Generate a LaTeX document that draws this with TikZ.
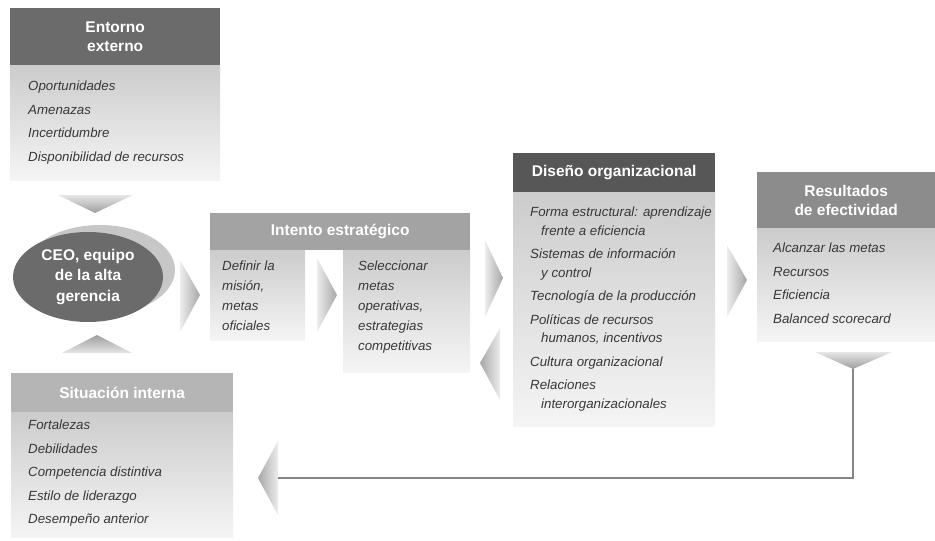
\documentclass[tikz,border=0pt]{standalone}
\usepackage{fontspec}
\setmainfont{Liberation Sans}
\usepackage{tikz}
\usetikzlibrary{shapes.geometric}

\tikzset{
    hdr/.style={rectangle, anchor=north west, inner sep=0pt, text=white, align=center,
        font=\fontsize{15.5}{19}\selectfont\bfseries},
    body/.style={rectangle, anchor=north west, inner sep=0pt, top color=black!20, bottom color=black!4},
    items/.style={anchor=north west, inner sep=0pt, align=left, text=black!78,
        font=\fontsize{13.3}{18.5}\selectfont\itshape},
    chev/.style={left color=black!7, right color=black!35},
    chevback/.style={left color=black!35, right color=black!7},
    chevdown/.style={top color=black!10, bottom color=black!38},
    chevup/.style={top color=black!38, bottom color=black!10},
}

\begin{document}
\begin{tikzpicture}[x=1pt, y=-1pt]
    \useasboundingbox (0,0) rectangle (935,541);

    % Entorno externo
    \node[hdr, fill=black!58, minimum width=210pt, minimum height=57pt] (entH) at (10,8) {Entorno\\externo};
    \node[body, minimum width=210pt, minimum height=115pt] (entB) at (entH.south west) {};
    \node[items] (entT) at ([xshift=18pt, yshift=-12pt]entB.north west)
        {\strut Oportunidades\\[5pt]Amenazas\\[5pt]Incertidumbre\\[5pt]Disponibilidad de recursos};

    % CEO
    \fill[black!22] (100,270) ellipse [x radius=75pt, y radius=45pt];
    \node[ellipse, fill=black!58, minimum width=150pt, minimum height=90pt, inner sep=0pt,
        text=white, align=center, font=\fontsize{15.5}{20.5}\selectfont\bfseries] (ceo) at (88,277)
        {CEO, equipo\\de la alta\\gerencia};
    \shade[chevdown] (58,195) -- (133,195) -- (95,213) -- cycle;
    \shade[chevup] (62,353) -- (132,353) -- (97,335) -- cycle;
    \shade[chev] (180,260) -- (200,295) -- (180,332) -- cycle;

    % Intento estrategico
    \node[hdr, fill=black!36, minimum width=260pt, minimum height=37pt] (intH) at (210,213) {Intento estratégico};
    \node[body, minimum width=95pt, minimum height=90pt] (intL) at (intH.south west) {};
    \node[body, minimum width=127pt, minimum height=122pt, anchor=north east] (intR) at (intH.south east) {};
    \node[items, font=\fontsize{13.3}{20}\selectfont\itshape] (intLT) at ([xshift=12pt, yshift=-6pt]intL.north west)
        {\strut Definir la\\misión,\\metas\\oficiales};
    \node[items, font=\fontsize{13.3}{20}\selectfont\itshape] (intRT) at ([xshift=15pt, yshift=-6pt]intR.north west)
        {\strut Seleccionar\\metas\\operativas,\\estrategias\\competitivas};
    \shade[chev] (317,258) -- (337,295) -- (317,332) -- cycle;
    \shade[chev] (485,240) -- (503,278) -- (485,317) -- cycle;
    \shade[chevback] (500,328) -- (480,363) -- (500,400) -- cycle;

    % Diseno organizacional
    \node[hdr, fill=black!66, minimum width=202pt, minimum height=39pt] (disH) at (513,153) {Diseño organizacional};
    \node[body, minimum width=202pt, minimum height=234pt] (disB) at (disH.south west) {};
    \node[items] (disT) at ([xshift=17pt, yshift=-11pt]disB.north west)
        {\strut Forma estructural: aprendizaje\\\hspace*{11pt}frente a eficiencia\\[5pt]
         Sistemas de información\\\hspace*{11pt}y control\\[5pt]
         Tecnología de la producción\\[5pt]
         Políticas de recursos\\\hspace*{11pt}humanos, incentivos\\[5pt]
         Cultura organizacional\\[5pt]
         Relaciones\\\hspace*{11pt}interorganizacionales};
    \shade[chev] (727,245) -- (747,280) -- (727,317) -- cycle;

    % Resultados de efectividad
    \node[hdr, fill=black!45, minimum width=178pt, minimum height=56pt] (resH) at (757,172) {Resultados\\de efectividad};
    \node[body, minimum width=178pt, minimum height=113pt] (resB) at (resH.south west) {};
    \node[items] (resT) at ([xshift=16pt, yshift=-11pt]resB.north west)
        {\strut Alcanzar las metas\\[5pt]Recursos\\[5pt]Eficiencia\\[5pt]Balanced scorecard};
    \shade[chevdown] (815,352) -- (892,352) -- (853,369) -- cycle;

    % Situacion interna
    \node[hdr, fill=black!29, minimum width=222pt, minimum height=39pt] (sitH) at (11,373) {Situación interna};
    \node[body, minimum width=222pt, minimum height=125pt] (sitB) at (sitH.south west) {};
    \node[items] (sitT) at ([xshift=17pt, yshift=-4pt]sitB.north west)
        {\strut Fortalezas\\[5pt]Debilidades\\[5pt]Competencia distintiva\\[5pt]Estilo de liderazgo\\[5pt]Desempeño anterior};
    \shade[chevback] (278,441) -- (258,478) -- (278,515) -- cycle;

    % Feedback line
    \coordinate (fbTop) at (853,369);
    \coordinate (fbEnd) at (278,478);
    \draw[black!48, line width=2pt] (fbTop) |- (fbEnd);
\end{tikzpicture}
\end{document}
